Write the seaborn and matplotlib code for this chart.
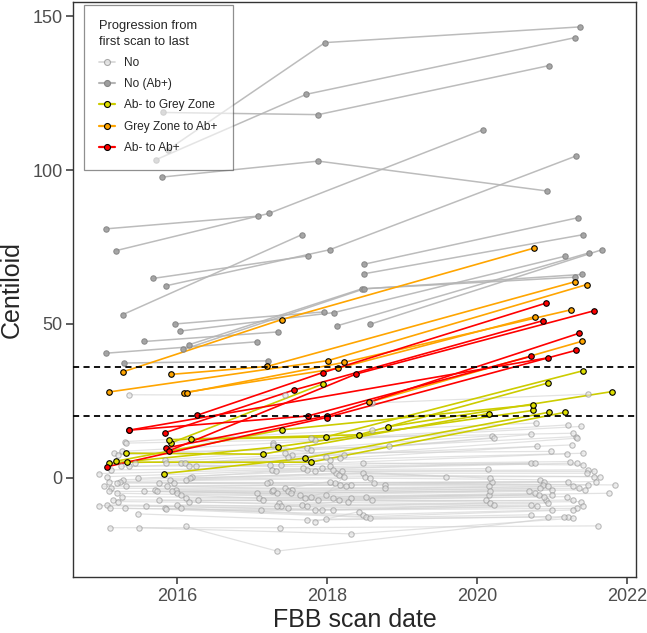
import matplotlib
matplotlib.use("Agg")
import matplotlib.pyplot as plt
from matplotlib.lines import Line2D
import pandas as pd
import seaborn as sns

# each subject = list of (scan date, centiloid)
scans_no = [
    [(2015.30, 11.8), (2018.59, 15.6), (2020.78, 17.8)],
    [(2015.32, 11.3), (2017.83, 12.4), (2021.21, 17.2)],
    [(2015.26, 8.6), (2017.28, 11.3), (2021.38, 16.7)],
    [(2015.16, 8.0), (2018.82, 10.2), (2020.71, 14.1)],
    [(2015.21, 7.5), (2017.73, 9.6), (2020.20, 13.7)],
    [(2015.83, 5.9), (2017.78, 9.1), (2021.31, 13.4)],
    [(2015.43, 4.8), (2017.53, 7.5), (2020.22, 12.9)],
    [(2016.05, 4.8), (2018.22, 7.5), (2021.33, 12.9)],
    [(2016.10, 4.8), (2017.48, 6.9), (2021.26, 10.7)],
    [(2015.85, 4.8), (2018.17, 6.4), (2020.80, 10.2)],
    [(2015.36, 3.7), (2018.03, 5.9), (2021.41, 8.0)],
    [(2015.25, 3.7), (2017.38, 4.2), (2021.19, 7.8)],
    [(2016.15, 3.7), (2017.24, 4.2), (2021.24, 5.3)],
    [(2016.25, 3.7), (2018.03, 3.7), (2020.72, 4.8)],
    [(2015.11, 2.6), (2017.93, 3.1), (2020.77, 4.8)],
    [(2014.95, 1.4), (2017.26, 2.6), (2021.33, 4.8)],
    [(2015.06, 0.4), (2017.73, 2.6), (2020.14, 3.0)],
    [(2016.20, 0.4), (2017.31, 2.1), (2021.48, 2.6)],
    [(2015.48, -0.1), (2017.83, 2.1), (2021.56, 2.1)],
    [(2016.17, -0.1), (2018.12, 1.5), (2021.46, 1.5)],
    [(2015.28, -0.6), (2018.47, 1.5), (2019.58, 0.4)],
    [(2015.90, -0.6), (2018.15, 1.0), (2021.63, 0.4)],
    [(2016.12, -0.6), (2018.50, 0.4), (2021.56, 0.4)],
    [(2015.09, -1.2), (2018.57, -0.1), (2020.84, -0.6)],
    [(2015.24, -1.2), (2017.24, -1.2), (2020.20, -1.2)],
    [(2015.20, -1.7), (2017.19, -1.7), (2020.89, -1.2)],
    [(2015.95, -1.7), (2018.10, -1.7), (2021.21, -1.2)],
    [(2015.75, -1.7), (2018.17, -2.3), (2021.58, -1.2)],
    [(2015.31, -2.8), (2018.32, -2.3), (2020.87, -2.3)],
    [(2015.02, -2.8), (2018.77, -2.3), (2021.48, -2.3)],
    [(2015.86, -2.8), (2017.43, -3.4), (2020.15, -2.8)],
    [(2015.12, -3.4), (2018.77, -3.4), (2020.94, -2.8)],
    [(2015.70, -3.9), (2017.53, -3.9), (2021.28, -2.8)],
    [(2015.98, -3.9), (2017.26, -4.4), (2020.84, -3.4)],
    [(2015.09, -4.4), (2017.48, -4.4), (2021.36, -3.4)],
    [(2015.56, -4.4), (2017.33, -5.0), (2020.99, -3.9)],
    [(2015.73, -4.4), (2017.51, -5.0), (2021.43, -3.9)],
    [(2015.93, -4.4), (2017.63, -5.5), (2020.69, -4.4)],
    [(2015.19, -5.0), (2017.78, -6.1), (2020.77, -5.0)],
    [(2016.00, -5.0), (2018.52, -6.1), (2021.75, -5.0)],
    [(2016.05, -5.5), (2017.09, -6.6), (2020.15, -5.5)],
    [(2015.26, -6.1), (2018.08, -6.6), (2020.82, -5.5)],
    [(2016.12, -6.6), (2018.32, -6.6), (2020.99, -5.5)],
    [(2015.14, -7.2), (2017.88, -7.2), (2021.19, -6.1)],
    [(2015.75, -7.2), (2018.15, -7.2), (2020.12, -7.2)],
    [(2016.27, -7.2), (2018.59, -7.2), (2020.91, -7.2)],
    [(2015.21, -7.7), (2017.36, -8.2), (2021.28, -7.2)],
    [(2016.15, -7.7), (2017.66, -8.8), (2021.38, -7.7)],
    [(2015.06, -8.8), (2017.38, -9.3), (2020.17, -8.2)],
    [(2016.00, -8.8), (2017.73, -9.3), (2020.94, -8.2)],
    [(2014.95, -9.0), (2017.48, -9.9), (2020.72, -8.8)],
    [(2015.58, -9.1), (2017.93, -10.4), (2020.79, -9.1)],
    [(2015.10, -9.9), (2018.08, -10.4), (2021.41, -9.1)],
    [(2015.30, -9.9), (2017.11, -10.6), (2021.33, -9.9)],
    [(2015.83, -9.9), (2018.47, -12.0), (2020.99, -10.4)],
    [(2016.05, -9.9), (2018.52, -12.6), (2021.28, -10.4)],
    [(2015.85, -10.2), (2018.57, -12.9), (2020.72, -12.0)],
    [(2015.48, -11.7), (2017.73, -13.7), (2021.21, -12.6)],
    [(2016.11, -15.8), (2017.33, -23.8), (2021.16, -12.6)],
    [(2015.10, -16.2), (2017.37, -16.2), (2021.61, -15.6)],
    [(2015.49, -16.2), (2018.32, -18.2), (2021.28, -13.1)],
    [(2017.78, 12.9), (2021.28, 14.5)],
    [(2017.43, 8.0), (2020.98, 8.6)],
    [(2018.47, 4.8), (2021.41, 4.2)],
    [(2018.20, 2.1), (2020.17, -0.1)],
    [(2018.62, -1.7), (2021.83, -2.3)],
    [(2017.06, -5.0), (2020.17, -4.4)],
    [(2017.14, -7.2), (2020.89, -6.1)],
    [(2017.83, -10.4), (2020.22, -8.8)],
    [(2017.98, -13.4), (2020.94, -12.6)],
    [(2017.28, 10.7), (2017.98, 6.9)],
    [(2017.68, 3.1), (2018.08, 2.6)],
    [(2017.28, -4.1), (2018.03, -1.2)],
    [(2017.70, -6.6), (2018.25, -2.8)],
    [(2017.33, -9.3), (2018.27, -7.7)],
    [(2017.83, -14.2), (2018.42, -11.0)],
    [(2017.98, -5.5), (2018.22, 0.4)],
    [(2015.36, 27.0), (2017.43, 26.8)],
    [(2018.59, 24.3), (2021.48, 27.2)],
]

scans_no_abpos = [
    [(2015.87, 106.5), (2017.97, 141.4), (2021.37, 146.5)],
    [(2015.72, 103.4), (2017.72, 124.6), (2021.30, 143.0)],
    [(2015.81, 118.7), (2017.88, 118.0), (2020.95, 133.9)],
    [(2015.79, 97.7), (2017.88, 102.9), (2020.93, 93.2)],
    [(2015.05, 80.9), (2017.07, 85.0)],
    [(2015.18, 73.8), (2017.22, 85.9), (2020.07, 113.0)],
    [(2015.68, 64.8), (2017.74, 72.1)],
    [(2015.85, 62.4), (2018.03, 74.1), (2021.31, 104.5)],
    [(2015.27, 53.0), (2017.66, 79.0)],
    [(2018.49, 69.4), (2021.34, 84.5)],
    [(2018.49, 66.3), (2021.41, 79.0)],
    [(2015.97, 50.0), (2017.95, 53.9)],
    [(2016.04, 47.7), (2018.09, 53.7), (2021.17, 72.0)],
    [(2018.13, 49.4), (2021.49, 73.1)],
    [(2018.57, 49.9), (2021.66, 74.1)],
    [(2016.15, 43.2), (2018.46, 61.4), (2021.30, 65.2)],
    [(2015.56, 44.3), (2017.34, 47.4)],
    [(2015.05, 40.5), (2017.06, 44.2)],
    [(2016.08, 41.7), (2018.49, 61.4), (2021.40, 66.1)],
    [(2015.29, 37.3), (2017.21, 38.0)],
]

scans_neg_to_grey = [
    [(2015.91, 11.3), (2017.94, 30.5)],
    [(2015.89, 12.4), (2017.98, 13.3), (2021.41, 34.8)],
    [(2016.18, 12.6), (2018.42, 14.0), (2020.94, 30.8)],
    [(2015.31, 8.0), (2017.14, 7.7), (2020.15, 20.9)],
    [(2015.33, 5.1), (2017.78, 5.1), (2021.17, 21.3)],
    [(2015.09, 4.7), (2017.34, 10.1), (2020.74, 21.9)],
    [(2015.18, 5.4), (2017.39, 15.6), (2020.74, 23.7)],
    [(2015.82, 1.4), (2017.70, 6.4), (2020.95, 21.3)],
    [(2018.81, 16.6), (2021.79, 28.0)],
]

scans_grey_to_pos = [
    [(2015.27, 34.4), (2017.39, 51.4), (2020.75, 74.6)],
    [(2015.91, 33.6), (2017.20, 36.2), (2021.30, 63.7)],
    [(2015.09, 27.9), (2018.01, 38.1), (2021.46, 62.8)],
    [(2016.09, 27.7), (2018.14, 35.6), (2020.77, 52.4)],
    [(2016.13, 27.7), (2018.22, 37.5), (2021.25, 54.6)],
    [(2018.55, 24.5), (2021.40, 44.4)],
]

scans_neg_to_pos = [
    [(2015.36, 15.5), (2017.74, 20.1), (2020.72, 39.5)],
    [(2015.84, 14.7), (2017.55, 28.5), (2020.88, 51.1)],
    [(2016.26, 20.3), (2017.94, 34.2), (2020.92, 56.8)],
    [(2015.85, 9.7), (2017.99, 20.1), (2021.36, 47.0)],
    [(2015.89, 8.8), (2018.38, 33.7), (2021.56, 54.3)],
    [(2015.06, 3.6), (2017.99, 19.6), (2021.31, 41.4)],
    [(2015.36, 15.5), (2020.94, 39.0)],
]

labels = ["No", "No (Ab+)", "Ab- to Grey Zone", "Grey Zone to Ab+", "Ab- to Ab+"]
subjects = [scans_no, scans_no_abpos, scans_neg_to_grey, scans_grey_to_pos, scans_neg_to_pos]
cutoffs = [20, 36]

rows = []
for lab, subs in zip(labels, subjects):
    for i, scans in enumerate(subs):
        for d, c in scans:
            rows.append((f"{lab}_{i}", lab, d, c))
df = pd.DataFrame(rows, columns=["subject", "progression", "date", "centiloid"])

# line colour, line width, line alpha, point face, point edge, point alpha, point size
style = {
    "No": ("#d0d0d0", 0.9, 0.6, "#e2e2e2", "#959595", 0.62, 15),
    "No (Ab+)": ("#b5b5b5", 1.1, 0.9, "#9e9e9e", "#858585", 0.9, 15),
    "Ab- to Grey Zone": ("#cccc00", 1.2, 1.0, "#dede00", "black", 1.0, 16),
    "Grey Zone to Ab+": ("#ffa500", 1.2, 1.0, "#ffa500", "black", 1.0, 16),
    "Ab- to Ab+": ("#ff0000", 1.2, 1.0, "#ff0000", "black", 1.0, 16),
}

sns.set_theme(style="ticks")
plt.rcParams["font.family"] = ["Liberation Sans", "DejaVu Sans"]

fig = plt.figure(figsize=(6.47, 6.33), dpi=100)
ax = fig.add_axes([0.1136, 0.0885, 0.8694, 0.9084])

for lab in labels:
    lc, lw, la, fc, ec, pa, s = style[lab]
    sns.lineplot(data=df[df.progression == lab], x="date", y="centiloid",
                 units="subject", estimator=None, color=lc, lw=lw, alpha=la,
                 legend=False, ax=ax)
for lab in labels:
    lc, lw, la, fc, ec, pa, s = style[lab]
    sns.scatterplot(data=df[df.progression == lab], x="date", y="centiloid",
                    color=fc, edgecolor=ec, linewidth=0.8, alpha=pa, s=s,
                    legend=False, ax=ax, zorder=3)

for c in cutoffs:
    ax.axhline(c, color="black", lw=1.3, dashes=(3.4, 2.4), zorder=4)

ax.set_xlim(2014.616, 2022.116)
ax.set_ylim(-32.2, 154.6)
ax.set_xticks([2016, 2018, 2020, 2022])
ax.set_yticks([0, 50, 100, 150])
ax.set_xlabel("FBB scan date", fontsize=18, labelpad=2)
ax.set_ylabel("Centiloid", fontsize=18, labelpad=6)
ax.tick_params(axis="both", labelsize=13, labelcolor="#4d4d4d", length=5,
               width=1.1, color="#333333", pad=3)
for sp in ax.spines.values():
    sp.set_visible(True)
    sp.set_color("#333333")
    sp.set_linewidth(1.0)

handles = []
for lab in labels:
    lc, lw, la, fc, ec, pa, s = style[lab]
    handles.append(Line2D([0], [0], color=lc, lw=lw + 0.4, alpha=min(1, la + 0.2),
                          marker="o", markersize=4.3, markerfacecolor=fc,
                          markeredgecolor=ec, markeredgewidth=0.8))
leg = ax.legend(handles, labels, title="Progression from\nfirst scan to last",
                loc="upper left", bbox_to_anchor=(0.018, 0.995), borderaxespad=0,
                fontsize=8.6, title_fontsize=9.3, alignment="left", frameon=True,
                fancybox=False, edgecolor="#444444", framealpha=0.6, borderpad=1.3,
                labelspacing=0.78, handlelength=1.35, handletextpad=0.75)
leg.get_title().set_linespacing(1.35)
leg.get_frame().set_linewidth(0.9)

fig.savefig("out.png", dpi=100)
